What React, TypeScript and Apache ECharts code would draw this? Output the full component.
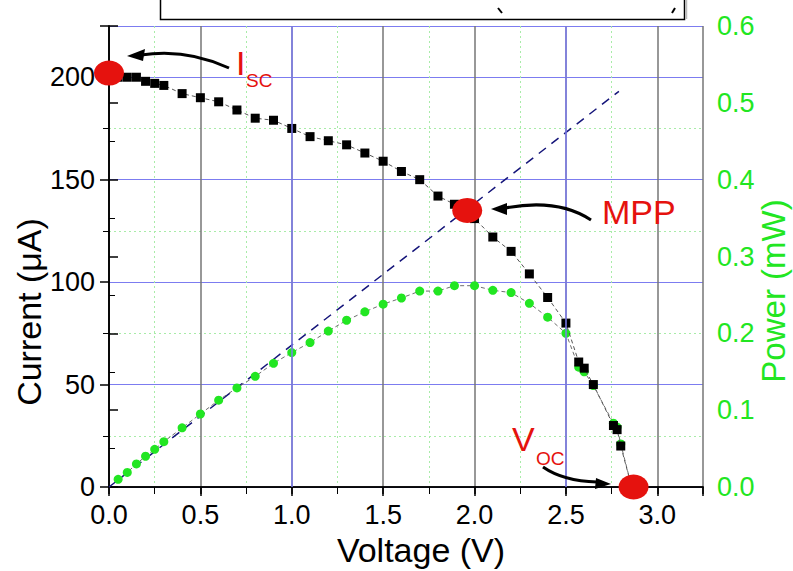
import React, { useEffect, useRef } from "react";
import * as echarts from "echarts";

// ---- data ----
const voltage = [0.05, 0.10, 0.15, 0.20, 0.25, 0.30, 0.40, 0.50, 0.60, 0.70, 0.80, 0.90, 1.00, 1.10, 1.20, 1.30, 1.40, 1.50, 1.60, 1.70, 1.80, 1.89, 2.00, 2.10, 2.20, 2.30, 2.40, 2.50, 2.57, 2.60, 2.65, 2.76, 2.78, 2.80, 2.86];
const currentUA = [200, 200, 200, 198, 197, 196, 192, 190, 188, 184, 180, 179, 175, 171, 169, 167, 163, 159, 154, 150, 142, 138, 131, 122, 115, 104, 92.5, 80, 61, 58, 50, 30, 28, 20, 0];
const powerMW = [0.010, 0.019, 0.030, 0.040, 0.049, 0.059, 0.077, 0.095, 0.113, 0.129, 0.144, 0.161, 0.175, 0.188, 0.203, 0.217, 0.228, 0.238, 0.246, 0.255, 0.255, 0.262, 0.262, 0.256, 0.253, 0.239, 0.221, 0.200, 0.156, 0.150, 0.132, 0.083, 0.078, 0.056, 0];
const tangentV = [0, 2.79];
const tangentP = [0, 0.515];
const markerV = [0, 1.96, 2.87];
const markerI = [202, 135, 0];
const blueGridV = [1.0, 2.5];

const FONT = "'Liberation Sans', Arial, sans-serif";
const GREEN = "#22e622";
const RED = "#e5120e";
const BLUE_GRID = "#7c7cf0";
const GRAY_GRID = "#767676";
const MINOR_GRID = "#a8eca8";

export default function App() {
  const ref = useRef<HTMLDivElement>(null);
  useEffect(() => {
    if (!ref.current) return;
    const chart = echarts.init(ref.current, null, { renderer: "svg" });
    const arrowHead = (pts: number[][]) => ({
      type: "polygon",
      z: 100,
      shape: { points: pts },
      style: { fill: "#000" },
    });
    const option: any = {
      animation: false,
      backgroundColor: "#fff",
      grid: { left: 109, right: 90, top: 26, bottom: 84 },
      xAxis: [
        {
          type: "value",
          position: "bottom",
          min: 0,
          max: 3.25,
          interval: 0.5,
          axisLine: { lineStyle: { color: "#000", width: 1.5 } },
          axisTick: { show: true, length: 9, lineStyle: { color: "#000", width: 1.5 } },
          minorTick: { show: true, splitNumber: 2, length: 6, lineStyle: { color: "#000", width: 1 } },
          axisLabel: {
            color: "#000",
            fontSize: 27,
            fontFamily: FONT,
            margin: 14,
            formatter: (v: number) => (Math.abs(v / 0.5 - Math.round(v / 0.5)) < 1e-6 ? v.toFixed(1) : ""),
          },
          splitLine: { show: true, lineStyle: { color: GRAY_GRID, width: 1.5 } },
          minorSplitLine: { show: true, lineStyle: { color: MINOR_GRID, type: [2, 3], width: 1 } },
        },
        {
          type: "value",
          position: "top",
          min: 0,
          max: 3.25,
          interval: 0.5,
          axisLine: { lineStyle: { color: "#000", width: 1.5 } },
          axisTick: { show: true, inside: true, length: 7, lineStyle: { color: "#000", width: 1.5 } },
          minorTick: { show: true, splitNumber: 2, length: 7, lineStyle: { color: "#000", width: 1 } },
          axisLabel: { show: false },
          splitLine: { show: false },
        },
      ],
      yAxis: [
        {
          type: "value",
          position: "left",
          min: 0,
          max: 225,
          interval: 50,
          axisLine: { show: true, lineStyle: { color: "#000", width: 1.5 } },
          axisTick: { show: true, length: 9, lineStyle: { color: "#000", width: 1.5 } },
          minorTick: { show: true, splitNumber: 2, length: 6, lineStyle: { color: "#000", width: 1 } },
          axisLabel: {
            color: "#000",
            fontSize: 27,
            fontFamily: FONT,
            margin: 14,
            formatter: (v: number) => (v % 50 === 0 ? String(v) : ""),
          },
          splitLine: { show: true, lineStyle: { color: BLUE_GRID, width: 1 } },
          minorSplitLine: { show: true, lineStyle: { color: MINOR_GRID, type: [2, 3], width: 1 } },
        },
        {
          type: "value",
          position: "right",
          min: 0,
          max: 0.6,
          interval: 0.1,
          axisLine: { show: true, lineStyle: { color: "#000", width: 1.5 } },
          axisTick: { show: true, length: 9, lineStyle: { color: "#000", width: 1.5 } },
          minorTick: { show: true, splitNumber: 2, length: 6, lineStyle: { color: "#000", width: 1 } },
          axisLabel: {
            color: GREEN,
            fontSize: 27,
            fontFamily: FONT,
            margin: 14,
            formatter: (v: number) => v.toFixed(1),
          },
          splitLine: { show: false },
        },
      ],
      series: [
        {
          name: "Tangent",
          type: "line",
          xAxisIndex: 0,
          yAxisIndex: 1,
          data: tangentV.map((v, i) => [v, tangentP[i]]),
          showSymbol: false,
          symbol: "none",
          lineStyle: { color: "#15157a", width: 1.5, type: [9, 7] },
          markLine: {
            silent: true,
            symbol: "none",
            label: { show: false },
            emphasis: { disabled: true },
            lineStyle: { color: BLUE_GRID, width: 1.5, type: "solid", opacity: 1 },
            data: blueGridV.map((v) => ({ xAxis: v })),
          },
          z: 2,
        },
        {
          name: "Power",
          type: "line",
          xAxisIndex: 0,
          yAxisIndex: 1,
          data: voltage.map((v, i) => [v, powerMW[i]]),
          symbol: "circle",
          symbolSize: 9,
          itemStyle: { color: GREEN },
          lineStyle: { color: "#6e6e6e", width: 1, type: [4, 3] },
          z: 3,
        },
        {
          name: "Current",
          type: "line",
          xAxisIndex: 0,
          yAxisIndex: 0,
          data: voltage.map((v, i) => [v, currentUA[i]]),
          symbol: "rect",
          symbolSize: 9,
          itemStyle: { color: "#000" },
          lineStyle: { color: "#555", width: 1, type: [4, 3] },
          z: 4,
        },
        {
          name: "Markers",
          type: "scatter",
          xAxisIndex: 0,
          yAxisIndex: 0,
          data: markerV.map((v, i) => [v, markerI[i]]),
          symbol: "circle",
          symbolSize: [30, 25],
          itemStyle: { color: RED, opacity: 1 },
          clip: false,
          z: 10,
        },
      ],
      graphic: [
        {
          type: "rect",
          z: 100,
          shape: { x: 160.5, y: -6, width: 524, height: 25.5 },
          style: { fill: "none", stroke: "#000", lineWidth: 1.5 },
        },
        { type: "line", z: 100, shape: { x1: 686.5, y1: 0, x2: 686.5, y2: 19 }, style: { stroke: "#bbb", lineWidth: 1.5 } },
        { type: "line", z: 100, shape: { x1: 498, y1: 8, x2: 502, y2: 13 }, style: { stroke: "#000", lineWidth: 2 } },
        { type: "line", z: 100, shape: { x1: 675, y1: 8, x2: 672, y2: 13 }, style: { stroke: "#000", lineWidth: 2 } },
        // Isc arrow
        {
          type: "bezierCurve",
          z: 100,
          shape: { x1: 229, y1: 68, x2: 141, y2: 55, cpx1: 186, cpy1: 48 },
          style: { stroke: "#000", lineWidth: 3, fill: "none" },
        },
        arrowHead([[127, 56], [145, 49], [143, 61]]),
        // MPP arrow
        {
          type: "bezierCurve",
          z: 100,
          shape: { x1: 591, y1: 220, x2: 505, y2: 208, cpx1: 558, cpy1: 198 },
          style: { stroke: "#000", lineWidth: 3, fill: "none" },
        },
        arrowHead([[491, 209], [507, 203], [507, 215]]),
        // Voc arrow
        {
          type: "bezierCurve",
          z: 100,
          shape: { x1: 543, y1: 467, x2: 597, y2: 482, cpx1: 563, cpy1: 481 },
          style: { stroke: "#000", lineWidth: 3, fill: "none" },
        },
        arrowHead([[611, 484], [596, 478], [595, 489]]),
        // annotation texts
        { type: "text", z: 100, x: 236, y: 63, style: { text: "I", fill: RED, fontSize: 34, fontFamily: FONT, verticalAlign: "middle", align: "left" } },
        { type: "text", z: 100, x: 246, y: 80, style: { text: "SC", fill: RED, fontSize: 19, fontFamily: FONT, verticalAlign: "middle", align: "left" } },
        { type: "text", z: 100, x: 602, y: 212, style: { text: "MPP", fill: RED, fontSize: 34, fontFamily: FONT, verticalAlign: "middle", align: "left" } },
        { type: "text", z: 100, x: 512, y: 439, style: { text: "V", fill: RED, fontSize: 34, fontFamily: FONT, verticalAlign: "middle", align: "left" } },
        { type: "text", z: 100, x: 536, y: 458, style: { text: "OC", fill: RED, fontSize: 19, fontFamily: FONT, verticalAlign: "middle", align: "left" } },
        // axis titles
        { type: "text", z: 100, x: 421, y: 550, style: { text: "Voltage (V)", fill: "#000", fontSize: 34, fontFamily: FONT, verticalAlign: "middle", align: "center" } },
        { type: "text", z: 100, x: 29, y: 312, rotation: Math.PI / 2, style: { text: "Current (\u03bcA)", fill: "#000", fontSize: 34, fontFamily: FONT, verticalAlign: "middle", align: "center" } },
        { type: "text", z: 100, x: 773, y: 291, rotation: Math.PI / 2, style: { text: "Power (mW)", fill: GREEN, fontSize: 33, fontFamily: FONT, verticalAlign: "middle", align: "center" } },
      ],
    };
    chart.setOption(option);
    return () => chart.dispose();
  }, []);
  return <div ref={ref} style={{ position: "absolute", left: 0, top: 0, width: 793, height: 571 }} />;
}
